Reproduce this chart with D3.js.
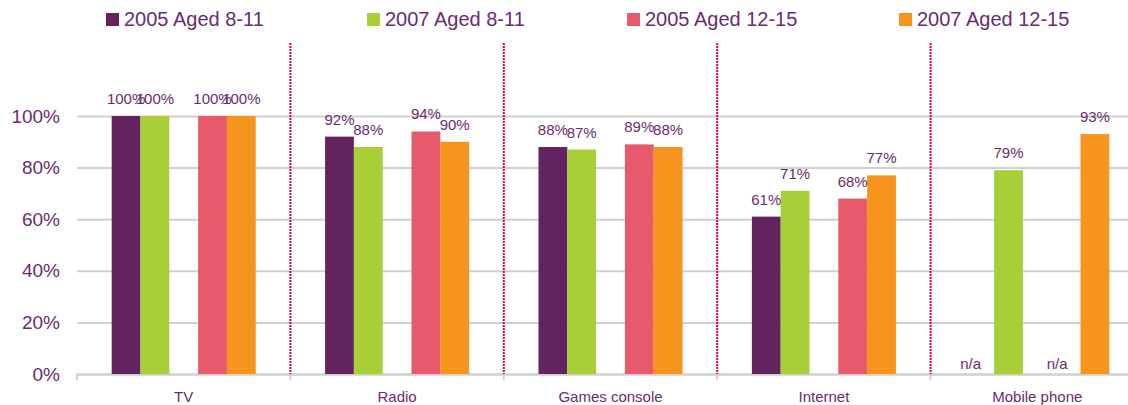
<!DOCTYPE html>
<html>
<head>
<meta charset="utf-8">
<script src="https://cdn.jsdelivr.net/npm/d3@7"></script>
<style>
  html, body { margin: 0; padding: 0; background: #fff; overflow: hidden; }
  svg { display: block; font-family: "Liberation Sans", Arial, sans-serif; }
</style>
</head>
<body>
<svg id="chart" width="1128" height="405"></svg>
<script>
const categories = ["TV", "Radio", "Games console", "Internet", "Mobile phone"];
const seriesNames = ["2005 Aged 8-11", "2007 Aged 8-11", "2005 Aged 12-15", "2007 Aged 12-15"];
const s2005_8_11  = [100, 92, 88, 61, null];
const s2007_8_11  = [100, 88, 87, 71, 79];
const s2005_12_15 = [100, 94, 89, 68, null];
const s2007_12_15 = [100, 90, 88, 77, 93];
const seriesColors = ["#62235f", "#a8cf38", "#e65a6b", "#f7941e"];
const yTicks = [0, 20, 40, 60, 80, 100];

const seriesValues = [s2005_8_11, s2007_8_11, s2005_12_15, s2007_12_15];
const slotKeys = ["s0", "s1", "gap", "s2", "s3"];
const seriesSlot = ["s0", "s1", "s2", "s3"];

const textColor = "#6a2c6f";
const gridColor = "#d0d0d0";
const sepColor = "#d6004f";

const svg = d3.select("#chart");
const plotLeft = 77, plotRight = 1144, plotTop = 116, plotBottom = 374;

const x = d3.scaleBand().domain(categories).range([plotLeft, plotRight]).paddingInner(0).paddingOuter(0);
const bw = x.bandwidth();
const x1 = d3.scaleBand().domain(slotKeys).range([0, bw]).paddingInner(0).paddingOuter(1.2037);
const y = d3.scaleLinear().domain([0, 100]).range([plotBottom, plotTop]);

// gridlines + y labels
const yAxis = d3.axisLeft(y).tickValues(yTicks).tickFormat(d => d + "%").tickSize(-(plotRight - plotLeft)).tickPadding(17);
const gy = svg.append("g").attr("transform", `translate(${plotLeft},0)`).call(yAxis);
gy.select(".domain").remove();
gy.selectAll(".tick line").attr("stroke", gridColor).attr("stroke-width", 2);
gy.selectAll(".tick text").attr("fill", textColor).attr("font-size", 19).attr("font-family", "Liberation Sans, Arial, sans-serif");

// bottom axis
const xAxis = d3.axisBottom(x).tickSize(0).tickPadding(17);
const gx = svg.append("g").attr("transform", `translate(0,${plotBottom})`).call(xAxis);
gx.select(".domain").attr("stroke", gridColor).attr("stroke-width", 2);
gx.selectAll(".tick text").attr("fill", textColor).attr("font-size", 15).attr("font-family", "Liberation Sans, Arial, sans-serif");
// category boundary ticks
const boundaries = categories.map(c => x(c)).concat([x(categories[categories.length - 1]) + bw]);
svg.append("g").selectAll("line").data(boundaries).join("line")
  .attr("x1", d => d).attr("x2", d => d)
  .attr("y1", plotBottom).attr("y2", plotBottom + 6)
  .attr("stroke", gridColor).attr("stroke-width", 2);

// red dotted separators
svg.append("g").selectAll("line").data(categories.slice(1)).join("line")
  .attr("x1", d => x(d)).attr("x2", d => x(d))
  .attr("y1", 43).attr("y2", plotBottom)
  .attr("stroke", sepColor).attr("stroke-width", 2).attr("stroke-dasharray", "2,1");

// bars
const barData = [];
seriesValues.forEach((vals, si) => {
  vals.forEach((v, ci) => {
    barData.push({ cat: categories[ci], si, v });
  });
});
svg.append("g").selectAll("rect").data(barData.filter(d => d.v !== null)).join("rect")
  .attr("x", d => x(d.cat) + x1(seriesSlot[d.si]))
  .attr("width", x1.bandwidth())
  .attr("y", d => y(d.v))
  .attr("height", d => y(0) - y(d.v))
  .attr("fill", d => seriesColors[d.si]);

// value labels
svg.append("g").selectAll("text").data(barData).join("text")
  .attr("x", d => x(d.cat) + x1(seriesSlot[d.si]) + x1.bandwidth() / 2 + (d.v === null ? -9 : 0))
  .attr("y", d => d.v === null ? plotBottom - 5 : y(d.v) - 12)
  .attr("text-anchor", "middle")
  .attr("fill", textColor)
  .attr("font-size", 15)
  .text(d => d.v === null ? "n/a" : d.v + "%");

// legend
const legendX = [106, 367, 627, 899];
const lg = svg.append("g").selectAll("g").data(seriesNames).join("g")
  .attr("transform", (d, i) => `translate(${legendX[i]},0)`);
lg.append("rect").attr("x", 0).attr("y", 13).attr("width", 13).attr("height", 13)
  .attr("fill", (d, i) => seriesColors[i]);
lg.append("text").attr("x", 18).attr("y", 26).attr("fill", textColor).attr("font-size", 20).text(d => d);
</script>
</body>
</html>
